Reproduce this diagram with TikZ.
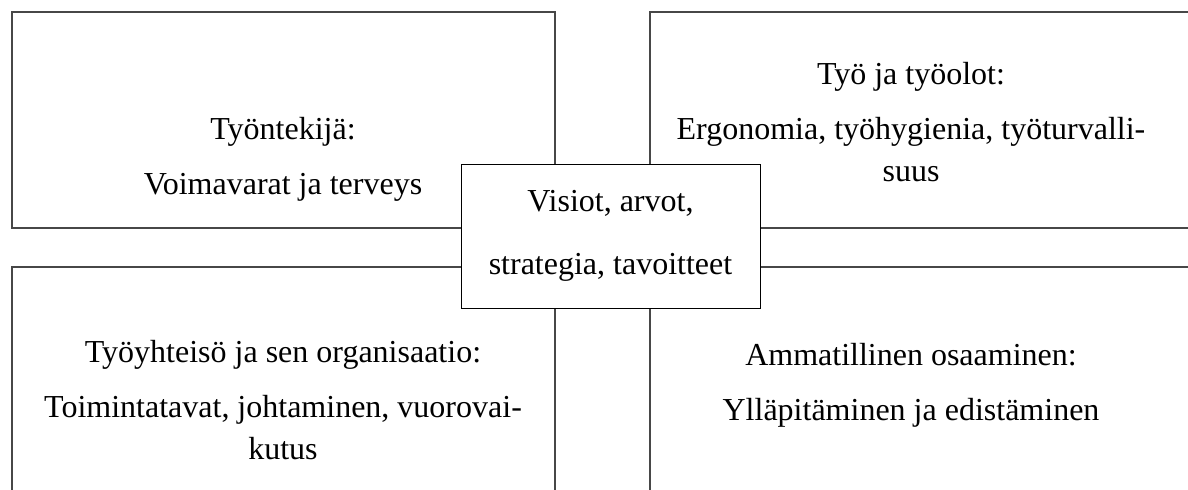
\documentclass[tikz,border=0pt]{standalone}
\usepackage{fontspec}
\setmainfont{Liberation Serif}

\begin{document}
\begin{tikzpicture}[x=0.5pt,y=-0.5pt,
  area/.style={rectangle,draw=black!72,line width=0.75pt,inner sep=0pt},
  core/.style={rectangle,draw,fill=white,line width=0.5pt,inner sep=0pt,
    minimum width=149.5pt,minimum height=72pt},
  areatext/.style={align=center,anchor=base,font=\fontsize{16}{21}\selectfont}]
    \useasboundingbox (0,0) rectangle (1188,490);
    \clip (0,0) rectangle (1188,490);
    % Four areas
    \node[area,minimum width=271.5pt,minimum height=108pt] (worker) at (283.5,120) {};
    \node[area,minimum width=275pt,minimum height=108pt] (work) at (925,120) {};
    \node[area,minimum width=271.5pt,minimum height=121.5pt] (community) at (283.5,388.5) {};
    \node[area,minimum width=275pt,minimum height=121.5pt] (skills) at (925,388.5) {};
    % Texts (base = last line)
    \node[areatext] (workerText) at (283,195) {Työntekijä:\\[6.5pt] Voimavarat ja terveys};
    \node[areatext] (workText) at (911,182) {Työ ja työolot:\\[6.5pt] Ergonomia, työhygienia, työturvalli-\\suus};
    \node[areatext] (communityText) at (283,460) {Työyhteisö ja sen organisaatio:\\[6.5pt] Toimintatavat, johtaminen, vuorovai-\\kutus};
    \node[areatext] (skillsText) at (911,421) {Ammatillinen osaaminen:\\[6.5pt] Ylläpitäminen ja edistäminen};
    % Centre
    \node[core] (vision) at (610.5,237) {};
    \node[areatext] (visionText) at (610.5,275) {Visiot, arvot,\\[10.5pt] strategia, tavoitteet};
\end{tikzpicture}
\end{document}
